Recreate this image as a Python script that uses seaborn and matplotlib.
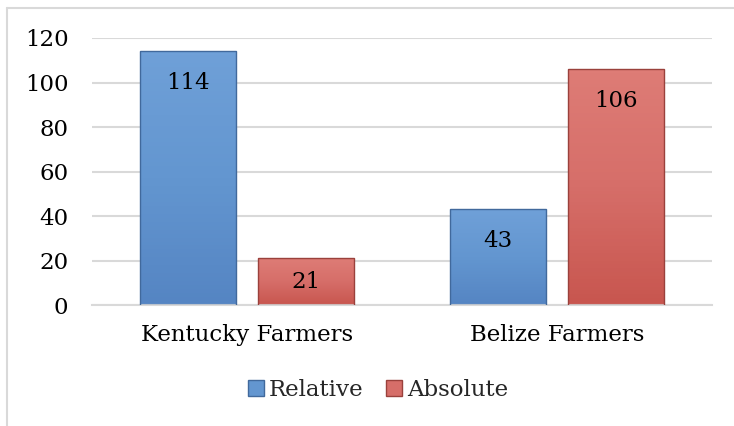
import numpy as np
import pandas as pd
import matplotlib
matplotlib.use("Agg")
import matplotlib.pyplot as plt
from matplotlib.patches import Rectangle
from matplotlib.lines import Line2D
import seaborn as sns

categories = ["Kentucky Farmers", "Belize Farmers"]
series = ["Relative", "Absolute"]
relative = [114, 43]
absolute = [21, 106]
yticks = [0, 20, 40, 60, 80, 100, 120]

df = pd.DataFrame({
    "group": categories * 2,
    "kind": [series[0]] * 2 + [series[1]] * 2,
    "value": relative + absolute,
})

sns.set_theme(style="white")
plt.rcParams["font.family"] = ["DejaVu Serif"]

FS = 16.5
fig = plt.figure(figsize=(7.34, 4.26), dpi=100)
ax = fig.add_axes([0.1253, 0.284, 0.8447, 0.6268])

base = {"Relative": "#6396d0", "Absolute": "#d66e69"}
light = {"Relative": "#6fa0d8", "Absolute": "#de7c76"}
dark = {"Relative": "#5585c3", "Absolute": "#c8564f"}
edge = {"Relative": "#41699c", "Absolute": "#9a413c"}

sns.barplot(data=df, x="group", y="value", hue="kind", order=categories,
            hue_order=series, palette=base, width=0.76, gap=0.18,
            saturation=1, ax=ax, legend=True, errorbar=None)

ax.set_ylim(0, 120)
ax.set_xlim(-0.5, 1.5)
ax.set_yticks(yticks)
ax.set_yticklabels([str(t) for t in yticks])
ax.yaxis.grid(True, color="#d9d9d9", linewidth=1.5)
ax.set_axisbelow(True)
for s in ["top", "right", "left"]:
    ax.spines[s].set_visible(False)
ax.spines["bottom"].set_color("#d9d9d9")
ax.spines["bottom"].set_linewidth(1.5)
ax.tick_params(axis="y", length=0, pad=17, labelsize=FS, labelcolor="black")
ax.tick_params(axis="x", length=0, pad=14, labelsize=FS, labelcolor="black")
ax.set_xlabel("")
ax.set_ylabel("")

# shaded fill and value labels for each bar
for cont, kind in zip(ax.containers, series):
    cmap = matplotlib.colors.LinearSegmentedColormap.from_list(
        "g", [dark[kind], base[kind], light[kind]])
    grad = np.linspace(0, 1, 64).reshape(-1, 1)
    for bar in cont.patches:
        x0, y0 = bar.get_x(), bar.get_y()
        w, h = bar.get_width(), bar.get_height()
        im = ax.imshow(grad, extent=[x0, x0 + w, y0, y0 + h], origin="lower",
                       cmap=cmap, aspect="auto", zorder=2)
        im.set_clip_path(bar)
        off = min(23, h / 120 * 267 * 0.5 / 1.39)
        ax.annotate(f"{h:g}", xy=(x0 + w / 2, y0 + h), xytext=(0, -off),
                    textcoords="offset points", ha="center", va="center",
                    fontsize=FS, color="black", zorder=5)
    # outlines drawn over the shading
    for bar in cont.patches:
        bar.set_facecolor("none")
        bar.set_edgecolor(edge[kind])
        bar.set_linewidth(1.0)
        bar.set_zorder(4)

ax.set_xlim(-0.5, 1.5)
ax.set_ylim(0, 120)

handles = [Rectangle((0, 0), 1, 1, facecolor=base[k], edgecolor=edge[k]) for k in series]
ax.legend_.remove()
fig.legend(handles, series, loc="center", bbox_to_anchor=(0.515, 0.085), ncol=2,
           frameon=False, fontsize=FS, handlelength=0.7, handleheight=0.7,
           handletextpad=0.2, columnspacing=1.0)

# chart-area border (top and left edges)
bx, by = 7 / 734, 1 - 8 / 426
fig.lines.append(Line2D([bx, 1.0], [by, by], transform=fig.transFigure,
                        color="#d9d9d9", linewidth=1.5))
fig.lines.append(Line2D([bx, bx], [0.0, by], transform=fig.transFigure,
                        color="#d9d9d9", linewidth=1.5))

fig.savefig("out.png", dpi=100)
